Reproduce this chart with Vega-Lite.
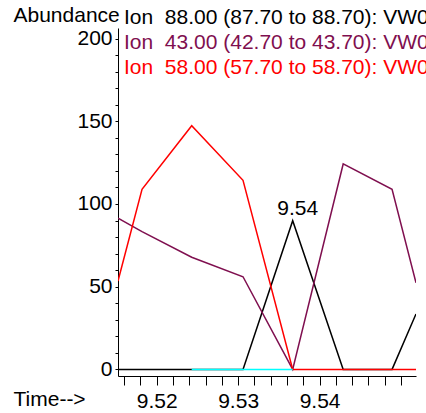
{
  "$schema": "https://vega.github.io/schema/vega-lite/v6.json",
  "width": 298,
  "height": 348,
  "autosize": "none",
  "padding": {"left": 118, "top": 28, "right": 10, "bottom": 37},
  "background": "white",
  "config": {
    "view": {"stroke": null},
    "font": "Liberation Sans",
    "axis": {"grid": false, "domain": true, "domainWidth": 1, "domainColor": "black", "tickColor": "black", "tickWidth": 1, "labelColor": "black", "titleColor": "black", "labelFont": "Liberation Sans", "titleFont": "Liberation Sans", "labelFontSize": 21, "titleFontSize": 21, "titleFontWeight": "normal", "labelFlush": false, "labelOverlap": false}
  },
  "datasets": {
    "ions": [
      {"mz": 88, "ion": "Ion\u00a0 88.00 (87.70 to 88.70): VW0C1.D\\DATA.MS", "t": 9.51525, "v": 0},
      {"mz": 88, "ion": "Ion\u00a0 88.00 (87.70 to 88.70): VW0C1.D\\DATA.MS", "t": 9.5182, "v": 0},
      {"mz": 88, "ion": "Ion\u00a0 88.00 (87.70 to 88.70): VW0C1.D\\DATA.MS", "t": 9.5243, "v": 0},
      {"mz": 88, "ion": "Ion\u00a0 88.00 (87.70 to 88.70): VW0C1.D\\DATA.MS", "t": 9.5306, "v": 0},
      {"mz": 88, "ion": "Ion\u00a0 88.00 (87.70 to 88.70): VW0C1.D\\DATA.MS", "t": 9.5367, "v": 89.9},
      {"mz": 88, "ion": "Ion\u00a0 88.00 (87.70 to 88.70): VW0C1.D\\DATA.MS", "t": 9.5429, "v": 0},
      {"mz": 88, "ion": "Ion\u00a0 88.00 (87.70 to 88.70): VW0C1.D\\DATA.MS", "t": 9.5489, "v": 0},
      {"mz": 88, "ion": "Ion\u00a0 88.00 (87.70 to 88.70): VW0C1.D\\DATA.MS", "t": 9.55184, "v": 33.5},
      {"mz": 43, "ion": "Ion\u00a0 43.00 (42.70 to 43.70): VW0C1.D\\DATA.MS", "t": 9.51525, "v": 91.4},
      {"mz": 43, "ion": "Ion\u00a0 43.00 (42.70 to 43.70): VW0C1.D\\DATA.MS", "t": 9.5182, "v": 83.3},
      {"mz": 43, "ion": "Ion\u00a0 43.00 (42.70 to 43.70): VW0C1.D\\DATA.MS", "t": 9.5243, "v": 67.8},
      {"mz": 43, "ion": "Ion\u00a0 43.00 (42.70 to 43.70): VW0C1.D\\DATA.MS", "t": 9.5306, "v": 56.0},
      {"mz": 43, "ion": "Ion\u00a0 43.00 (42.70 to 43.70): VW0C1.D\\DATA.MS", "t": 9.5367, "v": 0},
      {"mz": 43, "ion": "Ion\u00a0 43.00 (42.70 to 43.70): VW0C1.D\\DATA.MS", "t": 9.5429, "v": 124.2},
      {"mz": 43, "ion": "Ion\u00a0 43.00 (42.70 to 43.70): VW0C1.D\\DATA.MS", "t": 9.5489, "v": 108.9},
      {"mz": 43, "ion": "Ion\u00a0 43.00 (42.70 to 43.70): VW0C1.D\\DATA.MS", "t": 9.55184, "v": 52.4},
      {"mz": 58, "ion": "Ion\u00a0 58.00 (57.70 to 58.70): VW0C1.D\\DATA.MS", "t": 9.51525, "v": 53.4},
      {"mz": 58, "ion": "Ion\u00a0 58.00 (57.70 to 58.70): VW0C1.D\\DATA.MS", "t": 9.5182, "v": 108.9},
      {"mz": 58, "ion": "Ion\u00a0 58.00 (57.70 to 58.70): VW0C1.D\\DATA.MS", "t": 9.5243, "v": 147.3},
      {"mz": 58, "ion": "Ion\u00a0 58.00 (57.70 to 58.70): VW0C1.D\\DATA.MS", "t": 9.5306, "v": 114.3},
      {"mz": 58, "ion": "Ion\u00a0 58.00 (57.70 to 58.70): VW0C1.D\\DATA.MS", "t": 9.5367, "v": 0},
      {"mz": 58, "ion": "Ion\u00a0 58.00 (57.70 to 58.70): VW0C1.D\\DATA.MS", "t": 9.5429, "v": 0},
      {"mz": 58, "ion": "Ion\u00a0 58.00 (57.70 to 58.70): VW0C1.D\\DATA.MS", "t": 9.5489, "v": 0},
      {"mz": 58, "ion": "Ion\u00a0 58.00 (57.70 to 58.70): VW0C1.D\\DATA.MS", "t": 9.55184, "v": 0},
      {"mz": 0, "ion": "baseline", "t": 9.5243, "v": 0},
      {"mz": 0, "ion": "baseline", "t": 9.5306, "v": 0},
      {"mz": 0, "ion": "baseline", "t": 9.5367, "v": 0}
    ],
    "peak": [
      {"t": 9.5367, "v": 89.9, "label": "9.54"}
    ]
  },
  "encoding": {
    "x": {
      "field": "t", "type": "quantitative",
      "scale": {"domain": [9.51525, 9.55184], "nice": false, "zero": false},
      "axis": {
        "title": "Time-->", "titleX": -105, "titleY": 29, "titleAlign": "left", "titleBaseline": "alphabetic", "titleAngle": 0,
        "values": [9.516, 9.518, 9.52, 9.522, 9.524, 9.526, 9.528, 9.53, 9.532, 9.534, 9.536, 9.538, 9.54, 9.542, 9.544, 9.546, 9.548, 9.55],
        "tickSize": 9,
        "labelExpr": "round(datum.value*1000) % 10 === 0 && datum.value < 9.545 ? format(datum.value, '.2f') : ''",
        "labelPadding": 5
      }
    },
    "y": {
      "field": "v", "type": "quantitative",
      "scale": {"domain": [-4, 206.4], "nice": false, "zero": false},
      "axis": {
        "title": "Abundance", "titleX": -105, "titleY": -7, "titleAlign": "left", "titleBaseline": "alphabetic", "titleAngle": 0,
        "values": [0, 10, 20, 30, 40, 50, 60, 70, 80, 90, 100, 110, 120, 130, 140, 150, 160, 170, 180, 190, 200],
        "tickSize": 3,
        "labelExpr": "datum.value % 50 === 0 ? format(datum.value, 'd') : ''",
        "labelPadding": 3
      }
    }
  },
  "layer": [
    {
      "data": {"name": "ions"},
      "transform": [{"filter": "datum.mz == 88"}],
      "mark": {"type": "line", "strokeWidth": 1.5, "clip": true},
      "encoding": {
        "color": {
          "field": "ion", "type": "nominal",
          "scale": {
            "domain": ["Ion\u00a0 88.00 (87.70 to 88.70): VW0C1.D\\DATA.MS", "Ion\u00a0 43.00 (42.70 to 43.70): VW0C1.D\\DATA.MS", "Ion\u00a0 58.00 (57.70 to 58.70): VW0C1.D\\DATA.MS", "baseline"],
            "range": ["#000000", "#7f0f4f", "#ff0000", "#00ffff"]
          },
          "legend": {
            "orient": "none", "legendX": -15, "legendY": -21, "title": null, "direction": "vertical",
            "values": ["Ion\u00a0 88.00 (87.70 to 88.70): VW0C1.D\\DATA.MS", "Ion\u00a0 43.00 (42.70 to 43.70): VW0C1.D\\DATA.MS", "Ion\u00a0 58.00 (57.70 to 58.70): VW0C1.D\\DATA.MS"],
            "symbolSize": 0, "symbolStrokeWidth": 0, "symbolOpacity": 0, "labelOffset": 0,
            "labelFont": "Liberation Sans", "labelFontSize": 21, "labelLimit": 2000, "rowPadding": 3, "padding": 0,
            "labelColor": {"expr": "scale('color', datum.value)"}
          }
        }
      }
    },
    {
      "data": {"name": "ions"},
      "transform": [{"filter": "datum.mz == 43"}],
      "mark": {"type": "line", "strokeWidth": 1.5, "clip": true},
      "encoding": {"color": {"field": "ion", "type": "nominal"}}
    },
    {
      "data": {"name": "ions"},
      "transform": [{"filter": "datum.mz == 58"}],
      "mark": {"type": "line", "strokeWidth": 1.5, "clip": true},
      "encoding": {"color": {"field": "ion", "type": "nominal"}}
    },
    {
      "data": {"name": "ions"},
      "transform": [{"filter": "datum.mz == 0"}],
      "mark": {"type": "line", "strokeWidth": 1.5, "clip": true},
      "encoding": {"color": {"field": "ion", "type": "nominal"}}
    },
    {
      "data": {"name": "peak"},
      "mark": {"type": "text", "font": "Liberation Sans", "fontSize": 21, "color": "black", "align": "center", "baseline": "alphabetic", "dx": 5, "dy": -6},
      "encoding": {"text": {"field": "label"}}
    }
  ]
}
